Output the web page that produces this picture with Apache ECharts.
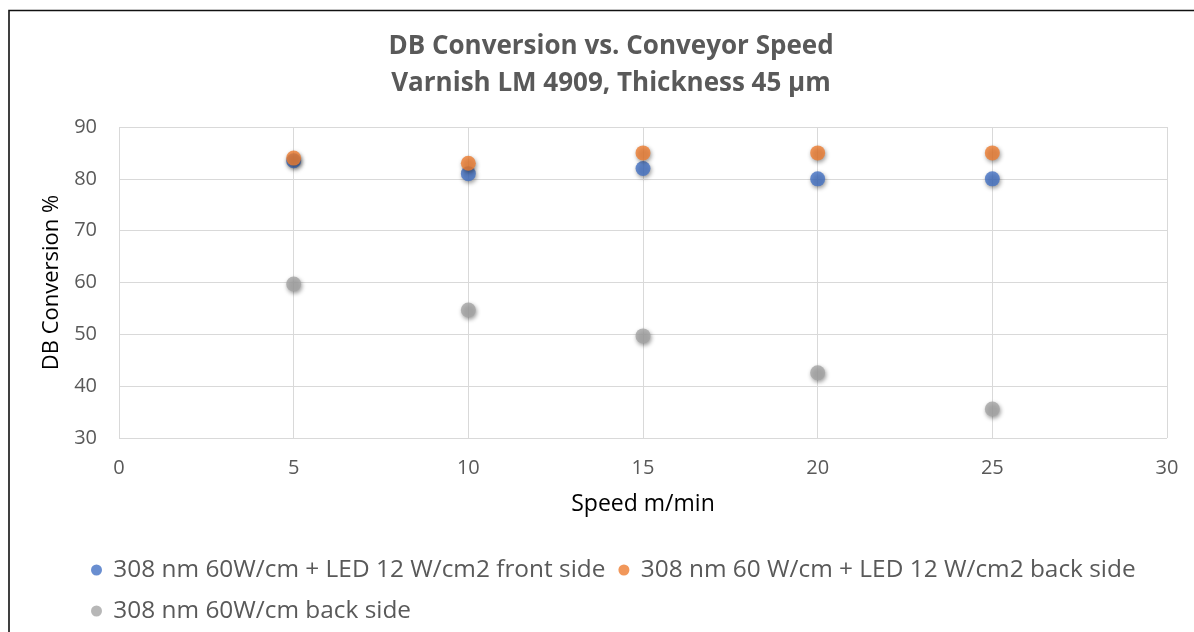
<!DOCTYPE html>
<html>
<head>
<meta charset="utf-8">
<script src="https://cdn.jsdelivr.net/npm/echarts@6/dist/echarts.min.js"></script>
<style>
  html, body { margin: 0; padding: 0; background: #fff; }
  #chart { width: 1194px; height: 632px; }
</style>
</head>
<body>
<div id="chart"></div>
<script>
// Conveyor speeds (m/min)
const speeds = [5, 10, 15, 20, 25];

// DB conversion (%) per lamp set-up
const frontLed = [83.5, 81, 82, 80, 80];
const backLed = [84, 83, 85, 85, 85];
const backNoLed = [59.7, 54.7, 49.7, 42.6, 35.6];

const seriesNames = [
  '308 nm 60W/cm + LED 12 W/cm2 front side',
  '308 nm 60 W/cm + LED 12 W/cm2 back side',
  '308 nm 60W/cm back side'
];
const seriesColors = ['#4472C4', '#ED7D31', '#A5A5A5'];

const titleLines = ['DB Conversion vs. Conveyor Speed', 'Varnish LM 4909, Thickness 45 µm'];
const xAxisName = 'Speed m/min';
const yAxisName = 'DB Conversion %';

const font = '"Open Sans", "Noto Sans", sans-serif';
const textColor = '#595959';

function pairs(ys) {
  return speeds.map((x, i) => [x, ys[i]]);
}

function scatter(name, ys, color) {
  return {
    name: name,
    type: 'scatter',
    data: pairs(ys),
    symbol: 'circle',
    symbolSize: 15,
    itemStyle: {
      color: color,
      shadowColor: 'rgba(0,0,0,0.5)',
      shadowBlur: 4,
      shadowOffsetX: 1,
      shadowOffsetY: 2
    }
  };
}

const legendCommon = {
  left: 86,
  icon: 'circle',
  itemWidth: 11,
  itemHeight: 11,
  itemGap: 13,
  formatter: name => ' ' + name,
  textStyle: { fontFamily: font, fontSize: 24.4, color: textColor }
};

const chart = echarts.init(document.getElementById('chart'));
chart.setOption({
  backgroundColor: '#fff',
  animation: false,
  color: seriesColors,
  title: {
    text: titleLines.join('\n'),
    left: 606,
    textAlign: 'center',
    top: 23,
    textStyle: {
      fontFamily: font,
      fontSize: 26,
      fontWeight: 'bold',
      color: textColor,
      lineHeight: 37
    }
  },
  graphic: [{
    type: 'polyline',
    shape: { points: [[9, 632], [9, 10.5], [1194, 10.5]] },
    style: { stroke: '#111', lineWidth: 1.6, fill: null },
    silent: true
  }],
  legend: [
    Object.assign({ data: [seriesNames[0], seriesNames[1]], top: 553 }, legendCommon),
    Object.assign({ data: [seriesNames[2]], top: 594 }, legendCommon)
  ],
  grid: {
    left: 119,
    right: 27,
    top: 127,
    bottom: 194,
    show: false
  },
  xAxis: {
    type: 'value',
    min: 0,
    max: 30,
    interval: 5,
    name: xAxisName,
    nameLocation: 'middle',
    nameGap: 55,
    nameTextStyle: { fontFamily: font, fontSize: 23, color: '#000' },
    axisLine: { show: false },
    axisTick: { show: false },
    axisLabel: { fontFamily: font, fontSize: 20, color: textColor, margin: 20 },
    splitLine: { show: true, lineStyle: { color: '#d9d9d9', width: 1 } }
  },
  yAxis: {
    type: 'value',
    min: 30,
    max: 90,
    interval: 10,
    name: yAxisName,
    nameLocation: 'middle',
    nameGap: 54,
    nameRotate: 90,
    nameTextStyle: { fontFamily: font, fontSize: 22, color: '#000' },
    axisLine: { show: false },
    axisTick: { show: false },
    axisLabel: { fontFamily: font, fontSize: 20, color: textColor, margin: 22 },
    splitLine: { show: true, lineStyle: { color: '#d9d9d9', width: 1 } }
  },
  series: [
    scatter(seriesNames[0], frontLed, seriesColors[0]),
    scatter(seriesNames[1], backLed, seriesColors[1]),
    scatter(seriesNames[2], backNoLed, seriesColors[2])
  ]
});
</script>
</body>
</html>
